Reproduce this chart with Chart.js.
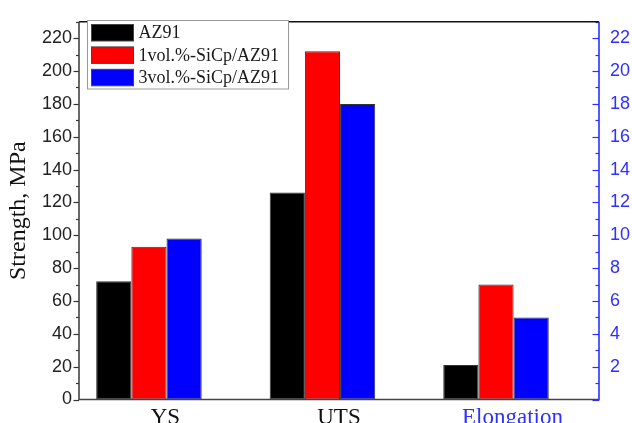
<!DOCTYPE html>
<html><head><meta charset="utf-8">
<script src="https://cdn.jsdelivr.net/npm/chart.js@4"></script>
<style>html,body{margin:0;padding:0;background:#fff;}canvas{display:block;}</style>
</head><body>
<canvas id="c" width="632" height="423"></canvas>
<script>
// ---- data ----
const categories = ['YS', 'UTS', 'Elongation'];
const seriesNames = ['AZ91', '1vol.%-SiCp/AZ91', '3vol.%-SiCp/AZ91'];
const ysMPa = [72, 93, 98];            // yield strength, left axis
const utsMPa = [126, 212, 180];        // ultimate tensile strength, left axis
const elongationPct = [2.1, 7.0, 5.0]; // elongation, right axis
const strengthTicks = [0, 20, 40, 60, 80, 100, 120, 140, 160, 180, 200, 220];
const elongationTicks = [2, 4, 6, 8, 10, 12, 14, 16, 18, 20, 22];

// ---- styles ----
const seriesColors = ['#000000', '#ff0000', '#0000ff'];
const BLUE = '#2f2fff';
const serif = 'Liberation Serif';
const sans = 'Liberation Sans';

const datasets = [];
seriesNames.forEach((name, i) => {
  datasets.push({
    label: name, stack: 's' + i, yAxisID: 'y',
    data: [{x: 1, y: ysMPa[i]}, {x: 2, y: utsMPa[i]}, {x: 3, y: null}],
    backgroundColor: seriesColors[i], borderColor: '#333', borderWidth: 1, borderSkipped: false
  });
});
seriesNames.forEach((name, i) => {
  datasets.push({
    label: name, stack: 's' + i, yAxisID: 'y2',
    data: [{x: 1, y: null}, {x: 2, y: null}, {x: 3, y: elongationPct[i]}],
    backgroundColor: seriesColors[i], borderColor: '#333', borderWidth: 1, borderSkipped: false
  });
});

const framePlugin = {
  id: 'frame',
  afterDraw(chart) {
    const ctx = chart.ctx;
    const a = chart.chartArea;
    const y = chart.scales.y, y2 = chart.scales.y2;
    ctx.save();
    // minor / major tick marks
    ctx.lineWidth = 1.2;
    ctx.strokeStyle = '#333';
    for (let v = 0; v <= 230; v += 10) {
      const p = Math.round(y.getPixelForValue(v)) + 0.5;
      const len = v % 20 === 0 ? 5.5 : 3;
      ctx.beginPath(); ctx.moveTo(a.left, p); ctx.lineTo(a.left - len, p); ctx.stroke();
    }
    ctx.strokeStyle = BLUE;
    for (let v = 0; v <= 23; v += 1) {
      const p = Math.round(y2.getPixelForValue(v)) + 0.5;
      const len = v % 2 === 0 ? 6.5 : 3.5;
      ctx.beginPath(); ctx.moveTo(a.right, p); ctx.lineTo(a.right - len, p); ctx.stroke();
    }
    // frame lines
    ctx.lineWidth = 1.6;
    ctx.strokeStyle = '#111';
    ctx.beginPath(); ctx.moveTo(a.left, a.top); ctx.lineTo(a.right, a.top); ctx.stroke();
    ctx.strokeStyle = '#444';
    ctx.beginPath(); ctx.moveTo(a.left, a.top); ctx.lineTo(a.left, a.bottom); ctx.lineTo(a.right, a.bottom); ctx.stroke();
    ctx.strokeStyle = BLUE;
    ctx.beginPath(); ctx.moveTo(a.right, a.top); ctx.lineTo(a.right, a.bottom + 1); ctx.stroke();

    // legend box
    const lx = 87.5, ly = 20.5, lw = 201, lh = 68.5;
    ctx.lineWidth = 1;
    ctx.strokeStyle = '#9a9a9a';
    ctx.fillStyle = '#fff';
    ctx.fillRect(lx, ly, lw, lh);
    ctx.strokeRect(lx, ly, lw, lh);
    ctx.font = '18px "' + serif + '"';
    ctx.textBaseline = 'middle';
    ctx.textAlign = 'left';
    for (let i = 0; i < 3; i++) {
      const ds = chart.data.datasets[i];
      const cy = 32.5 + i * 22.4;
      ctx.fillStyle = ds.backgroundColor;
      ctx.fillRect(91.5, cy - 8, 42, 16.5);
      ctx.strokeStyle = '#444';
      ctx.strokeRect(91.5, cy - 8, 42, 16.5);
      ctx.fillStyle = '#1a1a1a';
      ctx.fillText(ds.label, 138.5, cy + 1);
    }
    ctx.restore();
  }
};

new Chart(document.getElementById('c'), {
  type: 'bar',
  data: {datasets},
  options: {
    responsive: false,
    animation: false,
    devicePixelRatio: 1,
    layout: {padding: {top: 13, left: 0, right: 0, bottom: 0}},
    categoryPercentage: 0.608,
    barPercentage: 1.0,
    plugins: {legend: {display: false}, tooltip: {enabled: false}},
    scales: {
      x: {
        type: 'linear', min: 0.597, max: 3.5935, offset: false, bounds: 'data',
        afterBuildTicks: s => { s.ticks = categories.map((c, i) => ({value: i + 1})); },
        afterFit: s => { s.height = 23.5; },
        grid: {display: false, drawTicks: false, offset: false},
        border: {display: false},
        ticks: {
          autoSkip: false, maxRotation: 0, minRotation: 0, padding: 5, labelOffset: 16.5,
          callback: (v, i) => categories[i],
          color: c => (c.index === 2 ? BLUE : '#111'),
          font: {family: serif, size: 23}
        }
      },
      y: {
        type: 'linear', position: 'left', min: 0, max: 230, stacked: false,
        afterBuildTicks: s => { s.ticks = strengthTicks.map(v => ({value: v})); },
        afterFit: s => { s.width = 79; },
        grid: {display: false, drawTicks: false},
        border: {display: false},
        ticks: {padding: 7, color: '#222', font: {family: sans, size: 18}},
        title: {display: true, text: 'Strength, MPa', color: '#111', font: {family: serif, size: 24}, padding: {top: 4, bottom: 0}}
      },
      y2: {
        type: 'linear', position: 'right', min: 0, max: 23, stacked: false,
        afterBuildTicks: s => { s.ticks = elongationTicks.map(v => ({value: v})); },
        afterFit: s => { s.width = 33; },
        grid: {display: false, drawTicks: false},
        border: {display: false},
        ticks: {padding: 11, color: BLUE, font: {family: sans, size: 18}}
      }
    }
  },
  plugins: [framePlugin]
});
</script>
</body></html>
